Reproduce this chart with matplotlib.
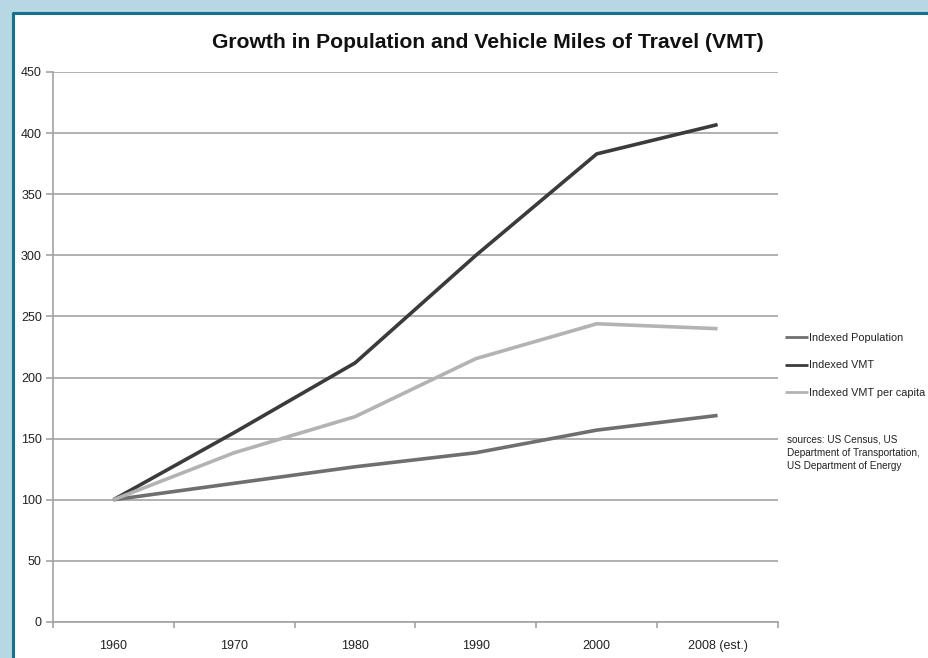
import matplotlib
matplotlib.use("Agg")
import matplotlib.pyplot as plt
from matplotlib.patches import Rectangle
from matplotlib.lines import Line2D

categories = ["1960", "1970", "1980", "1990", "2000", "2008 (est.)"]
population = [100, 113.5, 127, 138.5, 157, 169]
vmt = [100, 155, 212, 300, 383, 407]
vmt_per_capita = [100, 138.5, 168, 215.5, 244, 240]
series_names = ["Indexed Population", "Indexed VMT", "Indexed VMT per capita"]
colors = ["#6f6f6f", "#3b3b3b", "#b3b3b3"]
title = "Growth in Population and Vehicle Miles of Travel (VMT)"
sources = "sources: US Census, US\nDepartment of Transportation,\nUS Department of Energy"

W, H = 929, 658
fig = plt.figure(figsize=(W / 100, H / 100), dpi=100)
fig.patch.set_facecolor("#b7d7e4")

def fx(x):
    return x / W

def fy(y):
    return 1 - y / H

# white panel with dark teal border on left and top
fig.patches.append(Rectangle((fx(12), 0), 1 - fx(12), fy(12), transform=fig.transFigure,
                             facecolor="white", edgecolor="none", zorder=-2))
fig.lines.append(Line2D([fx(13), fx(13)], [0, fy(12)], transform=fig.transFigure,
                        color="#17718f", lw=2.2, zorder=-1, solid_capstyle="butt"))
fig.lines.append(Line2D([fx(12), 1], [fy(13), fy(13)], transform=fig.transFigure,
                        color="#17718f", lw=2.2, zorder=-1, solid_capstyle="butt"))

plt.rcParams["font.family"] = ["Liberation Sans", "DejaVu Sans"]

ax = fig.add_axes([fx(53), fy(622), fx(778) - fx(53), fy(72) - fy(622)])
ax.set_zorder(1)
ax.set_facecolor("none")
x = list(range(len(categories)))
for vals, name, c in zip([population, vmt, vmt_per_capita], series_names, colors):
    ax.plot(x, vals, color=c, lw=2.6, label=name, solid_capstyle="butt", zorder=3)

ax.set_xlim(-0.5, len(categories) - 0.5)
ax.set_ylim(0, 450)
ax.set_yticks(range(0, 451, 50))
ax.yaxis.grid(True, color="#a3a3a3", lw=1.2)
ax.set_axisbelow(True)
for s in ["top", "right"]:
    ax.spines[s].set_visible(False)
for s in ["left", "bottom"]:
    ax.spines[s].set_color("#a3a3a3")
    ax.spines[s].set_linewidth(1.2)
ax.set_xticks([i - 0.5 for i in range(len(categories) + 1)])
ax.set_xticklabels([])
ax.set_xticks(x, minor=True)
ax.set_xticklabels(categories, minor=True)
ax.tick_params(axis="x", which="major", length=4, color="#a3a3a3", width=1.2, direction="out")
ax.tick_params(axis="x", which="minor", length=0, labelsize=9, pad=13, labelcolor="#222222")
ax.tick_params(axis="y", length=5, color="#a3a3a3", width=1.2, labelsize=9, pad=3,
               labelcolor="#222222")

fig.text(fx(488), fy(42), title, ha="center", va="center", fontsize=15.2,
         fontweight="bold", color="#111111")

leg = fig.legend(loc="upper left", bbox_to_anchor=(fx(785), fy(333)), frameon=False,
                 fontsize=7.8, handlelength=2.1, handletextpad=0.15, labelspacing=1.6,
                 borderaxespad=0, borderpad=0)
for t in leg.get_texts():
    t.set_color("#222222")
for h in leg.get_lines():
    h.set_linewidth(2.0)

fig.text(fx(787), fy(434), sources, ha="left", va="top", fontsize=7.2,
         color="#222222", linespacing=1.45)

fig.savefig("out.png", dpi=100, facecolor=fig.get_facecolor())
